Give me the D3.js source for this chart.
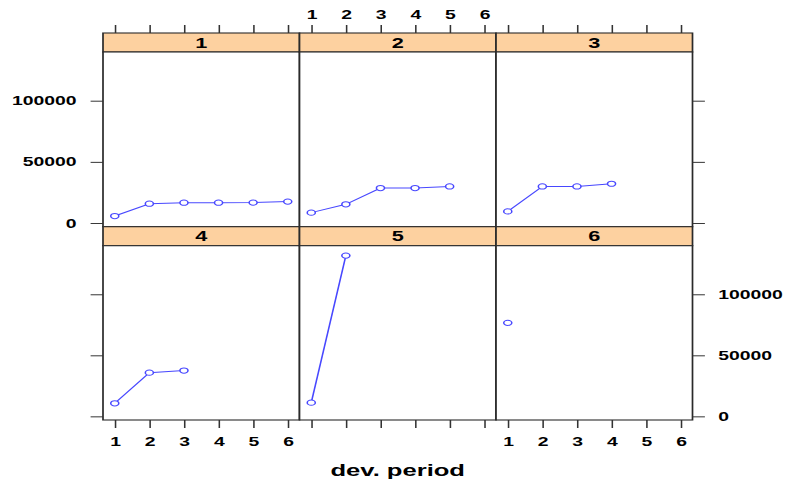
<!DOCTYPE html>
<html>
<head>
<meta charset="utf-8">
<script src="https://cdn.jsdelivr.net/npm/d3@7"></script>
<style>
  body { margin: 0; background: #fff; }
  text { font-family: "Liberation Sans", Arial, sans-serif; }
</style>
</head>
<body>
<script>
// origin year panels and cumulative values by development period
var panels = ['1', '2', '3', '4', '5', '6'];
var devPeriods = [1, 2, 3, 4, 5, 6];
var values = [
    [5700, 15800, 16600, 16600, 16700, 17500],
    [8500, 15300, 28600, 28600, 29900],
    [9500, 29900, 29900, 32100],
    [10700, 35800, 37500],
    [11200, 131700],
    [76600]
];
var yTicks = [0, 50000, 100000];

var width = 788, height = 481;
// the picture is stretched sideways, so draw in a narrow space and scale x
var sx = 1.55;

var colEdges = [103, 299.5, 496, 692.5];
var rows = [
    { stripTop: 33, top: 52, bottom: 226.7 },
    { stripTop: 226.7, top: 245.7, bottom: 420 }
];
var lineColor = '#4848ff',
    frameColor = '#2a2a2a',
    stripColor = '#fdd1a0';

var svg = d3.select('body')
        .append('svg')
        .attr('width', width)
        .attr('height', height);

var g = svg.append('g')
        .attr('transform', 'scale(' + sx + ',1)');

function styleAxis(sel) {
    sel.select('.domain').remove();
    sel.selectAll('.tick line').attr('stroke', '#333').attr('stroke-width', 1);
    sel.selectAll('.tick text')
        .attr('fill', '#000')
        .style('font-size', '12.5px')
        .style('font-weight', 'bold');
}

for (var p = 0; p < panels.length; p++) {
    var col = p % 3,
        r = Math.floor(p / 3),
        row = rows[r];

    var x = d3.scaleLinear()
            .domain([0.66, 6.34])
            .range([colEdges[col] / sx, colEdges[col + 1] / sx]);
    var y = d3.scaleLinear()
            .domain([-3000, 139800])
            .range([row.bottom, row.top]);

    // Strip
    g.append('rect')
            .attr('x', colEdges[col] / sx)
            .attr('y', row.stripTop)
            .attr('width', (colEdges[col + 1] - colEdges[col]) / sx)
            .attr('height', row.top - row.stripTop)
            .attr('fill', stripColor)
            .attr('stroke', frameColor)
            .attr('stroke-width', 1.1);
    g.append('text')
            .attr('x', (colEdges[col] + colEdges[col + 1]) / 2 / sx)
            .attr('y', (row.stripTop + row.top) / 2)
            .attr('dy', '0.36em')
            .attr('text-anchor', 'middle')
            .style('font-size', '14px')
            .style('font-weight', 'bold')
            .text(panels[p]);

    // Panel frame
    g.append('rect')
            .attr('x', colEdges[col] / sx)
            .attr('y', row.top)
            .attr('width', (colEdges[col + 1] - colEdges[col]) / sx)
            .attr('height', row.bottom - row.top)
            .attr('fill', 'white')
            .attr('stroke', frameColor)
            .attr('stroke-width', 1.1);

    // Data
    var pts = values[p].map(function(v, i) { return [devPeriods[i], v]; });
    g.append('path')
            .datum(pts)
            .attr('fill', 'none')
            .attr('stroke', lineColor)
            .attr('stroke-width', 1)
            .attr('d', d3.line()
                .x(function(d) { return x(d[0]); })
                .y(function(d) { return y(d[1]); }));
    g.selectAll('.pt' + p).data(pts).enter()
        .append('circle')
            .attr('cx', function(d) { return x(d[0]); })
            .attr('cy', function(d) { return y(d[1]); })
            .attr('r', 2.6)
            .attr('fill', 'white')
            .attr('stroke', lineColor)
            .attr('stroke-width', 1);

    // Top axis (labels only on middle column)
    if (r === 0) {
        g.append('g')
            .attr('transform', 'translate(0,' + row.stripTop + ')')
            .call(d3.axisTop(x).tickValues(devPeriods).tickSize(8).tickSizeOuter(0).tickPadding(6)
                .tickFormat(col === 1 ? d3.format('d') : function() { return ''; }))
            .call(styleAxis);
    }
    // Bottom axis (labels on outer columns)
    if (r === 1) {
        g.append('g')
            .attr('transform', 'translate(0,' + row.bottom + ')')
            .call(d3.axisBottom(x).tickValues(devPeriods).tickSize(8).tickSizeOuter(0).tickPadding(9.5)
                .tickFormat(col !== 1 ? d3.format('d') : function() { return ''; }))
            .call(styleAxis);
    }
    // Left axis
    if (col === 0) {
        g.append('g')
            .attr('transform', 'translate(' + colEdges[0] / sx + ',0)')
            .call(d3.axisLeft(y).tickValues(yTicks).tickSize(8).tickSizeOuter(0).tickPadding(9)
                .tickFormat(r === 0 ? d3.format('d') : function() { return ''; }))
            .call(styleAxis);
    }
    // Right axis
    if (col === 2) {
        g.append('g')
            .attr('transform', 'translate(' + colEdges[3] / sx + ',0)')
            .call(d3.axisRight(y).tickValues(yTicks).tickSize(8).tickSizeOuter(0).tickPadding(8.6)
                .tickFormat(r === 1 ? d3.format('d') : function() { return ''; }))
            .call(styleAxis);
    }
}

// x axis title
g.append('text')
        .attr('x', (colEdges[0] + colEdges[3]) / 2 / sx)
        .attr('y', 476)
        .attr('text-anchor', 'middle')
        .style('font-size', '16.5px')
        .style('font-weight', 'bold')
        .text('dev. period');
</script>
</body>
</html>
